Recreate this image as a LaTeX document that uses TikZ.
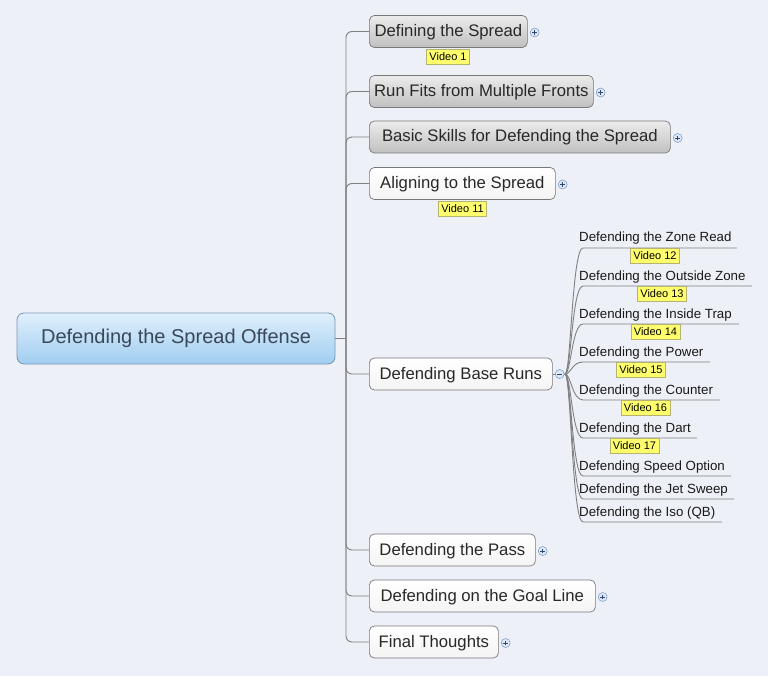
\documentclass[tikz,border=0pt]{standalone}
\usepackage{fontspec}
\setmainfont{Liberation Sans}
\usetikzlibrary{shadings}
\definecolor{bg}{RGB}{238,240,248}
\definecolor{connc}{RGB}{128,128,128}
\definecolor{rootb}{RGB}{120,150,180}
\definecolor{roott}{RGB}{224,240,252}
\definecolor{rootbot}{RGB}{160,205,240}
\definecolor{roottext}{RGB}{58,72,88}
\definecolor{topb}{RGB}{120,120,120}
\definecolor{gtop}{RGB}{236,236,236}
\definecolor{gbot}{RGB}{192,192,192}
\definecolor{wbot}{RGB}{244,244,244}
\definecolor{ttext}{RGB}{40,40,40}
\definecolor{vidfill}{RGB}{255,255,110}
\definecolor{vidb}{RGB}{180,180,110}
\definecolor{plusb}{RGB}{120,150,190}
\definecolor{plusf}{RGB}{220,232,248}
\definecolor{plusc}{RGB}{50,70,110}
\begin{document}
\begin{tikzpicture}[x=1pt,y=-1pt,
  rootbox/.style={draw=rootb, rounded corners=7pt, top color=roott, bottom color=rootbot,
    minimum height=51pt, minimum width=318pt, font=\fontsize{20}{22}\selectfont,
    text=roottext, line width=0.8pt, text height=1em, text depth=0pt},
  topicg/.style={draw=topb, rounded corners=5pt, top color=gtop, bottom color=gbot,
    minimum height=32pt, anchor=west, font=\fontsize{16.7}{19}\selectfont, text=ttext,
    inner xsep=3pt, line width=0.7pt, text height=1em, text depth=0pt},
  topicw/.style={topicg, top color=white, bottom color=wbot},
  subtopic/.style={anchor=base west, font=\fontsize{13.3}{14}\selectfont, inner sep=0pt, text=black!90},
  vid/.style={fill=vidfill, draw=vidb, line width=0.5pt, font=\fontsize{11}{12}\selectfont,
    inner xsep=3pt, inner ysep=1.5pt, minimum height=15pt},
  conn/.style={draw=connc, line width=0.9pt, rounded corners=6pt},
  subconn/.style={draw=connc, line width=0.9pt},
  plusicon/.style={circle, draw=plusb, fill=plusf, minimum size=9pt, inner sep=0pt, line width=0.5pt,
    path picture={\draw[plusc, line width=0.7pt]
      ([xshift=-2.4pt]path picture bounding box.center) -- ([xshift=2.4pt]path picture bounding box.center)
      ([yshift=-2.4pt]path picture bounding box.center) -- ([yshift=2.4pt]path picture bounding box.center);}},
  minusicon/.style={circle, draw=plusb, fill=plusf, minimum size=9pt, inner sep=0pt, line width=0.5pt,
    path picture={\draw[plusc, line width=0.7pt]
      ([xshift=-2.4pt]path picture bounding box.center) -- ([xshift=2.4pt]path picture bounding box.center);}}
]
\fill[bg] (0,0) rectangle (768,676);
\useasboundingbox (0,0) rectangle (768,676);

% root
\node[rootbox] (root) at (176,338.5) {Defending the Spread Offense};
\coordinate (trunk) at (346,338.5);

% main topics
\node[topicg, minimum width=158pt] (t1) at (369,31.5) {Defining the Spread};
\node[topicg, minimum width=224pt] (t2) at (369,91.5) {Run Fits from Multiple Fronts};
\node[topicg, minimum width=301pt] (t3) at (369,137) {Basic Skills for Defending the Spread};
\node[topicw, minimum width=186pt] (t4) at (369,183.5) {Aligning to the Spread};
\node[topicw, minimum width=183pt] (t5) at (369,374) {Defending Base Runs};
\node[topicw, minimum width=166pt] (t6) at (369,550) {Defending the Pass};
\node[topicw, minimum width=226pt] (t7) at (369,596) {Defending on the Goal Line};
\node[topicw, minimum width=129pt] (t8) at (369,642) {Final Thoughts};

% connectors root -> topics
\draw[conn] (root.east) -- (trunk);
\foreach \t in {t1,t2,t3,t4,t5,t6,t7,t8}{
  \draw[conn] (trunk) |- (\t.west);
}

% plus icons
\node[plusicon] (p1) at ([xshift=7pt,yshift=-1pt]t1.east) {};
\node[plusicon] (p2) at ([xshift=7pt,yshift=-1pt]t2.east) {};
\node[plusicon] (p3) at ([xshift=7pt,yshift=-1pt]t3.east) {};
\node[plusicon] (p4) at ([xshift=7pt,yshift=-1pt]t4.east) {};
\node[plusicon] (p6) at ([xshift=7pt,yshift=-1pt]t6.east) {};
\node[plusicon] (p7) at ([xshift=7pt,yshift=-1pt]t7.east) {};
\node[plusicon] (p8) at ([xshift=7pt,yshift=-1pt]t8.east) {};

% base runs subtopics
\coordinate (hub) at (565,374);
\foreach \n/\uy/\ex/\txt in {
  1/248/737/{Defending the Zone Read},
  2/286/752/{Defending the Outside Zone},
  3/324/739/{Defending the Inside Trap},
  4/362/710/{Defending the Power},
  5/400/720/{Defending the Counter},
  6/438/697/{Defending the Dart},
  7/476/731/{Defending Speed Option},
  8/499/734/{Defending the Jet Sweep},
  9/522/722/{Defending the Iso (QB)}}{
  \node[subtopic] (s\n) at (579,\uy-6) {\txt};
  \coordinate (u\n) at (583,\uy);
  \coordinate (e\n) at (\ex,\uy);
  \draw[subconn] (hub) .. controls (571,374) and (572,\uy) .. (u\n) -- (e\n);
}
\draw[subconn] (t5.east) -- (hub);
\node[minusicon] (m5) at ([xshift=7pt]t5.east) {};

% video labels
\node[vid] (v1) at (448,56.5) {Video 1};
\node[vid] (v11) at (462.5,208.5) {Video 11};
\node[vid] (v12) at (655,255.5) {Video 12};
\node[vid] (v13) at (662,293.5) {Video 13};
\node[vid] (v14) at (655.5,331.5) {Video 14};
\node[vid] (v15) at (641,369.5) {Video 15};
\node[vid] (v16) at (645.5,407.5) {Video 16};
\node[vid] (v17) at (634.5,445.5) {Video 17};
\end{tikzpicture}
\end{document}
